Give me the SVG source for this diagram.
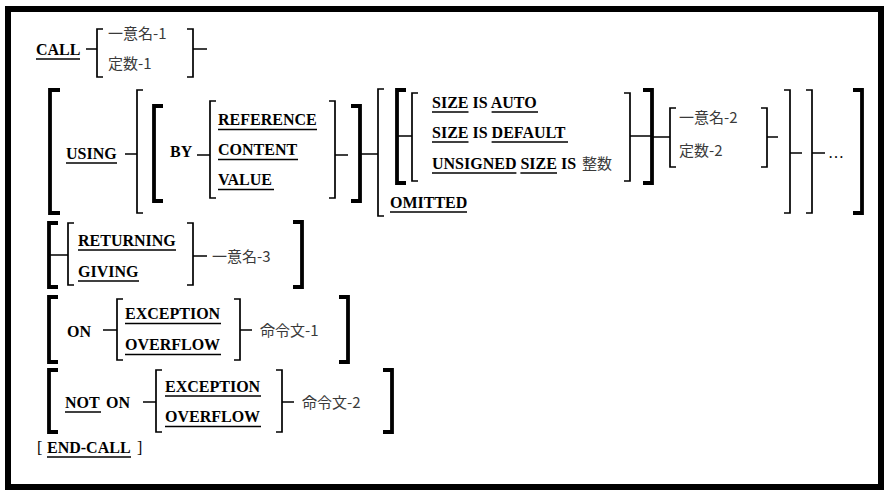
<svg xmlns="http://www.w3.org/2000/svg" width="891" height="499" viewBox="0 0 891 499">
<style>
.thk{stroke:#000;stroke-width:3.8;fill:none}
.thn{stroke:#000;stroke-width:1.7;fill:none}
.ul{stroke:#000;stroke-width:1.3}
.kw{font-family:"Liberation Serif",serif;font-weight:bold;font-size:16px;fill:#000}
.rg{font-family:"Liberation Serif",serif;font-size:16px;fill:#000}
.jp{font-family:"Noto Sans CJK JP",sans-serif;font-weight:normal;font-size:15px;fill:#3a3a3a}
</style>
<rect x="0" y="0" width="891" height="499" fill="#fff"/>
<rect x="8" y="9" width="873" height="478" fill="none" stroke="#000" stroke-width="6"/>

<g id="call-row">
<text class="kw" x="36" y="55">CALL</text>
<line class="ul" x1="36" y1="59" x2="80" y2="59"/>
<path class="thn" d="M103,29 H97 V77 H103 M86,49 H97"/>
<text class="jp" x="108" y="39">一意名-1</text>
<text class="jp" x="108" y="69">定数-1</text>
<path class="thn" d="M187,29 H193 V77 H187 M193,49 H207"/>
</g>

<g id="using-row">
<path class="thk" d="M60,90 H50 V213 H60"/>
<text class="kw" x="66" y="159">USING</text>
<line class="ul" x1="66" y1="163" x2="117" y2="163"/>
<path class="thn" d="M125,154 H137 M143,90 H137 V213 H143"/>
<path class="thk" d="M163,106 H154 V201 H163"/>
<text class="kw" x="170" y="157">BY</text>
<path class="thn" d="M197,155 H210 M216,101 H210 V198 H216"/>
<text class="kw" x="218" y="125">REFERENCE</text>
<line class="ul" x1="218" y1="129.5" x2="317" y2="129.5"/>
<text class="kw" x="218" y="155">CONTENT</text>
<line class="ul" x1="218" y1="159.5" x2="298" y2="159.5"/>
<text class="kw" x="218" y="185">VALUE</text>
<line class="ul" x1="218" y1="189.5" x2="274" y2="189.5"/>
<path class="thn" d="M329,101 H335 V198 H329 M335,155 H348"/>
<path class="thk" d="M351,106 H360 V201 H351"/>
<path class="thn" d="M360,154 H378 M384,89 H378 V216 H384"/>
<path class="thk" d="M406,90 H397 V183 H406"/>
<path class="thn" d="M398,136 H412 M418,93 H412 V181 H418"/>
<text class="kw" x="432" y="108">SIZE IS AUTO</text>
<line class="ul" x1="432" y1="112" x2="468.5" y2="112"/>
<line class="ul" x1="491.6" y1="112" x2="538" y2="112"/>
<text class="kw" x="432" y="138">SIZE IS DEFAULT</text>
<line class="ul" x1="432" y1="142" x2="468.5" y2="142"/>
<line class="ul" x1="491.6" y1="142" x2="568" y2="142"/>
<text class="kw" x="432" y="169">UNSIGNED SIZE IS</text>
<text class="jp" x="582" y="169">整数</text>
<line class="ul" x1="432" y1="173" x2="516.4" y2="173"/>
<line class="ul" x1="520.4" y1="173" x2="557" y2="173"/>
<path class="thn" d="M624,93 H630 V181 H624 M630,136 H651"/>
<path class="thk" d="M643,90 H652 V183 H643"/>
<text class="kw" x="390" y="208">OMITTED</text>
<line class="ul" x1="390" y1="212" x2="467" y2="212"/>
<path class="thn" d="M652,137 H670 M676,108 H670 V167 H676"/>
<text class="jp" x="679" y="123">一意名-2</text>
<text class="jp" x="679" y="156">定数-2</text>
<path class="thn" d="M761,108 H767 V167 H761 M767,137 H778"/>
<path class="thn" d="M784,90 H790 V213 H784 M790,153 H802"/>
<path class="thn" d="M806,90 H812 V213 H806 M812,153 H825"/>
<text class="rg" x="828" y="158">…</text>
<path class="thk" d="M853,90 H862 V213 H853"/>
</g>

<g id="returning-row">
<path class="thk" d="M58,223 H49 V287 H58"/>
<path class="thn" d="M50,255 H68 M74,223 H68 V285 H74"/>
<text class="kw" x="78" y="246">RETURNING</text>
<line class="ul" x1="78" y1="250" x2="176" y2="250"/>
<text class="kw" x="78" y="277">GIVING</text>
<line class="ul" x1="78" y1="281" x2="139" y2="281"/>
<path class="thn" d="M187,223 H193 V285 H187 M193,256 H207"/>
<text class="jp" x="212" y="262">一意名-3</text>
<path class="thk" d="M293,222 H302 V287 H293"/>
</g>

<g id="on-row">
<path class="thk" d="M58,297 H49 V362 H58"/>
<text class="kw" x="67" y="337">ON</text>
<path class="thn" d="M103,330 H117 M123,299 H117 V360 H123"/>
<text class="kw" x="125" y="319">EXCEPTION</text>
<line class="ul" x1="125" y1="323.5" x2="221" y2="323.5"/>
<text class="kw" x="125" y="350">OVERFLOW</text>
<line class="ul" x1="125" y1="354.5" x2="221" y2="354.5"/>
<path class="thn" d="M234,299 H240 V360 H234 M240,330 H252"/>
<text class="jp" x="260" y="336">命令文-1</text>
<path class="thk" d="M339,297 H348 V362 H339"/>
</g>

<g id="not-on-row">
<path class="thk" d="M58,370 H49 V432 H58"/>
<text class="kw" x="65" y="408">NOT</text>
<line class="ul" x1="65" y1="412" x2="101" y2="412"/>
<text class="kw" x="106" y="408">ON</text>
<path class="thn" d="M143,402 H156 M162,370 H156 V432 H162"/>
<text class="kw" x="165" y="392">EXCEPTION</text>
<line class="ul" x1="165" y1="396" x2="261" y2="396"/>
<text class="kw" x="165" y="422">OVERFLOW</text>
<line class="ul" x1="165" y1="426.5" x2="261" y2="426.5"/>
<path class="thn" d="M276,370 H282 V432 H276 M282,402 H294"/>
<text class="jp" x="302" y="408">命令文-2</text>
<path class="thk" d="M383,370 H392 V432 H383"/>
</g>

<g id="end-call">
<text class="rg" x="37" y="453">[</text>
<text class="kw" x="47" y="453">END-CALL</text>
<line class="ul" x1="47" y1="457" x2="131" y2="457"/>
<text class="rg" x="137" y="453">]</text>
</g>
</svg>
